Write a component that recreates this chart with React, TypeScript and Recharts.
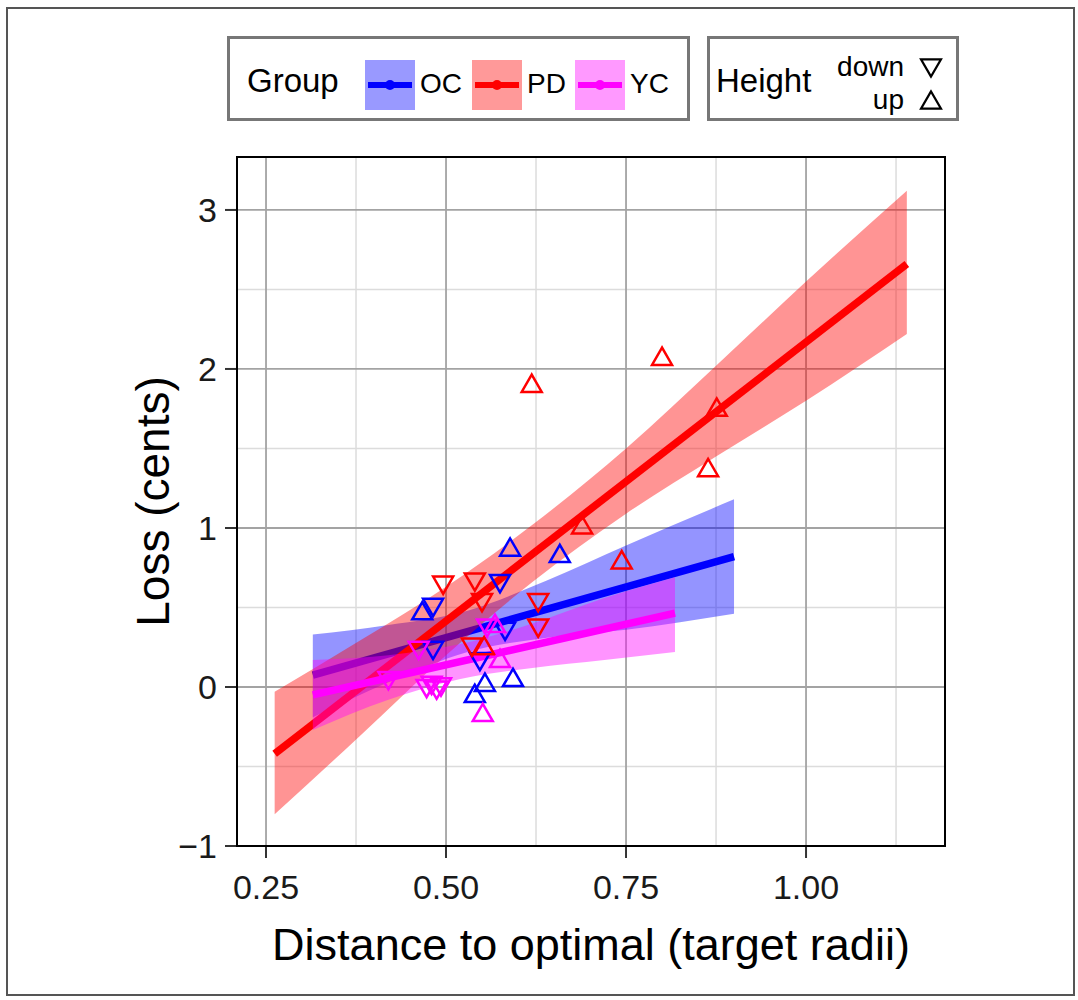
import React from 'react'
import {
  ComposedChart,
  XAxis,
  YAxis,
  CartesianGrid,
  Area,
  Line,
  Scatter,
  Label,
} from 'recharts'

const FONT = '"Liberation Sans", Arial, Helvetica, sans-serif'

const X_TICKS = [0.25, 0.5, 0.75, 1.0]
const Y_TICKS = [-1, 0, 1, 2, 3]
const X_MINOR = [0.375, 0.625, 0.875, 1.125]
const Y_MINOR = [-0.5, 0.5, 1.5, 2.5]

// fitted lines
const OC_FIT = [
  { x: 0.315, y: 0.075 },
  { x: 0.9, y: 0.82 },
]
const PD_FIT = [
  { x: 0.262, y: -0.42 },
  { x: 1.14, y: 2.66 },
]
const YC_FIT = [
  { x: 0.315, y: -0.05 },
  { x: 0.818, y: 0.465 },
]

// confidence ribbons [low, high]
const OC_BAND = [
  { x: 0.315, band: [-0.19, 0.33] },
  { x: 0.42, band: [0.03, 0.39] },
  { x: 0.53, band: [0.22, 0.48] },
  { x: 0.64, band: [0.31, 0.67] },
  { x: 0.75, band: [0.36, 0.89] },
  { x: 0.9, band: [0.46, 1.18] },
]
const PD_BAND = [
  { x: 0.262, band: [-0.8, -0.03] },
  { x: 0.38, band: [-0.31, 0.29] },
  { x: 0.5, band: [0.2, 0.63] },
  { x: 0.62, band: [0.66, 1.02] },
  { x: 0.75, band: [1.09, 1.5] },
  { x: 0.875, band: [1.45, 2.02] },
  { x: 1.0, band: [1.8, 2.55] },
  { x: 1.14, band: [2.22, 3.12] },
]
const YC_BAND = [
  { x: 0.315, band: [-0.27, 0.17] },
  { x: 0.42, band: [-0.08, 0.2] },
  { x: 0.52, band: [0.05, 0.27] },
  { x: 0.62, band: [0.12, 0.4] },
  { x: 0.72, band: [0.17, 0.56] },
  { x: 0.818, band: [0.22, 0.69] },
]

// observations
const OC_POINTS = [
  { x: 0.467, y: 0.48, dir: 'up' },
  { x: 0.589, y: 0.88, dir: 'up' },
  { x: 0.658, y: 0.84, dir: 'up' },
  { x: 0.593, y: 0.06, dir: 'up' },
  { x: 0.554, y: 0.03, dir: 'up' },
  { x: 0.54, y: -0.04, dir: 'up' },
  { x: 0.482, y: 0.5, dir: 'down' },
  { x: 0.575, y: 0.65, dir: 'down' },
  { x: 0.482, y: 0.23, dir: 'down' },
  { x: 0.582, y: 0.35, dir: 'down' },
  { x: 0.547, y: 0.16, dir: 'down' },
]
const PD_POINTS = [
  { x: 0.619, y: 1.91, dir: 'up' },
  { x: 0.8, y: 2.08, dir: 'up' },
  { x: 0.876, y: 1.76, dir: 'up' },
  { x: 0.864, y: 1.38, dir: 'up' },
  { x: 0.689, y: 1.02, dir: 'up' },
  { x: 0.744, y: 0.8, dir: 'up' },
  { x: 0.553, y: 0.26, dir: 'up' },
  { x: 0.496, y: 0.64, dir: 'down' },
  { x: 0.54, y: 0.66, dir: 'down' },
  { x: 0.55, y: 0.53, dir: 'down' },
  { x: 0.628, y: 0.53, dir: 'down' },
  { x: 0.628, y: 0.37, dir: 'down' },
  { x: 0.536, y: 0.25, dir: 'down' },
]
const YC_POINTS = [
  { x: 0.568, y: 0.4, dir: 'up' },
  { x: 0.575, y: 0.18, dir: 'up' },
  { x: 0.551, y: -0.16, dir: 'up' },
  { x: 0.557, y: 0.37, dir: 'down' },
  { x: 0.42, y: 0.04, dir: 'down' },
  { x: 0.462, y: 0.23, dir: 'down' },
  { x: 0.473, y: -0.01, dir: 'down' },
  { x: 0.48, y: 0.01, dir: 'down' },
  { x: 0.487, y: -0.02, dir: 'down' },
  { x: 0.493, y: 0.0, dir: 'down' },
]

const BLUE = '#0000ff'
const RED = '#ff0000'
const MAGENTA = '#ff00ff'
const BAND_OPACITY = 0.42

function triPoints(cx: number, cy: number, up: boolean) {
  const s = 10
  const h = 8.66
  return up
    ? `${cx},${cy - h} ${cx - s},${cy + h} ${cx + s},${cy + h}`
    : `${cx},${cy + h} ${cx - s},${cy - h} ${cx + s},${cy - h}`
}

const triangle = (color: string) => (props: any) => {
  const { cx, cy, payload } = props
  if (cx == null || cy == null) return <g />
  return (
    <polygon
      points={triPoints(cx, cy, payload.dir === 'up')}
      fill="none"
      stroke={color}
      strokeWidth={2.5}
    />
  )
}

const fmtX = (v: number) => v.toFixed(2)
const fmtY = (v: number) => (v < 0 ? `\u2212${Math.abs(v)}` : `${v}`)

function Key({ left, fill, color }: { left: number; fill: string; color: string }) {
  return (
    <svg style={{ position: 'absolute', left, top: 21 }} width={50} height={50}>
      <rect width={50} height={50} fill={fill} />
      <line x1={3} x2={47} y1={25} y2={25} stroke={color} strokeWidth={6} />
      <circle cx={25} cy={25} r={5} fill={color} />
    </svg>
  )
}

function Legend() {
  const text = { position: 'absolute' as const, fontFamily: FONT, color: '#000', lineHeight: 1 }
  return (
    <>
      <div
        style={{
          position: 'absolute',
          left: 227,
          top: 36,
          width: 463,
          height: 85,
          border: '3px solid #777',
          boxSizing: 'border-box',
          background: '#fff',
        }}
      >
        <div style={{ ...text, left: 17, top: 25, fontSize: 33 }}>Group</div>
        <Key left={135} fill="#9999ff" color={BLUE} />
        <div style={{ ...text, left: 190, top: 31, fontSize: 28 }}>OC</div>
        <Key left={242} fill="#ff9999" color={RED} />
        <div style={{ ...text, left: 297, top: 31, fontSize: 28 }}>PD</div>
        <Key left={345} fill="#ff99ff" color={MAGENTA} />
        <div style={{ ...text, left: 400, top: 31, fontSize: 28 }}>YC</div>
      </div>
      <div
        style={{
          position: 'absolute',
          left: 707,
          top: 36,
          width: 252,
          height: 85,
          border: '3px solid #777',
          boxSizing: 'border-box',
          background: '#fff',
        }}
      >
        <div style={{ ...text, left: 6, top: 25, fontSize: 33 }}>Height</div>
        <div style={{ ...text, right: 52, top: 14, fontSize: 28 }}>down</div>
        <div style={{ ...text, right: 52, top: 47, fontSize: 28 }}>up</div>
        <svg style={{ position: 'absolute', left: 206, top: 8 }} width={30} height={70}>
          <polygon points={triPoints(15, 21, false)} fill="none" stroke="#000" strokeWidth={2.2} />
          <polygon points={triPoints(15, 53, true)} fill="none" stroke="#000" strokeWidth={2.2} />
        </svg>
      </div>
    </>
  )
}

export default function App() {
  const tick = { fontSize: 34, fill: '#1a1a1a', fontFamily: FONT }
  return (
    <div style={{ position: 'relative', width: 1078, height: 1000, background: '#fff' }}>
      <style>{'body{margin:0}'}</style>
      <div
        style={{
          position: 'absolute',
          left: 6,
          top: 7,
          width: 1069,
          height: 989,
          border: '2px solid #555',
          boxSizing: 'border-box',
        }}
      />
      <ComposedChart
        width={1078}
        height={1000}
        margin={{ top: 157, right: 133, left: 100, bottom: 34 }}
      >
        <CartesianGrid
          stroke="#dcdcdc"
          strokeWidth={1.5}
          horizontalValues={Y_MINOR}
          verticalValues={X_MINOR}
        />
        <CartesianGrid
          stroke="#a3a3a3"
          strokeWidth={1.8}
          horizontalValues={Y_TICKS}
          verticalValues={X_TICKS}
        />
        <XAxis
          type="number"
          dataKey="x"
          domain={[0.2097, 1.193]}
          ticks={X_TICKS}
          tickFormatter={fmtX}
          allowDataOverflow
          axisLine={false}
          tickSize={12}
          tickMargin={17}
          tickLine={{ stroke: '#333', strokeWidth: 2 }}
          tick={tick}
          height={120}
        >
          <Label
            value="Distance to optimal (target radii)"
            position="insideBottom"
            offset={6}
            style={{ fontSize: 45, fill: '#000', fontFamily: FONT }}
          />
        </XAxis>
        <YAxis
          type="number"
          dataKey="y"
          domain={[-1, 3.333]}
          ticks={Y_TICKS}
          tickFormatter={fmtY}
          allowDataOverflow
          axisLine={false}
          tickSize={12}
          tickMargin={8}
          tickLine={{ stroke: '#333', strokeWidth: 2 }}
          tick={tick}
          width={137}
        >
          <Label
            value="Loss (cents)"
            angle={-90}
            position="insideLeft"
            offset={53}
            style={{ fontSize: 46, fill: '#000', fontFamily: FONT, textAnchor: 'middle' }}
          />
        </YAxis>

        <Area
          data={OC_BAND}
          dataKey="band"
          type="monotone"
          fill={BLUE}
          fillOpacity={BAND_OPACITY}
          stroke="none"
          isAnimationActive={false}
          zIndex={101}
        />
        <Line
          data={OC_FIT}
          dataKey="y"
          stroke={BLUE}
          strokeWidth={7.5}
          dot={false}
          activeDot={false}
          isAnimationActive={false}
          zIndex={102}
        />
        <Area
          data={PD_BAND}
          dataKey="band"
          type="monotone"
          fill={RED}
          fillOpacity={BAND_OPACITY}
          stroke="none"
          isAnimationActive={false}
          zIndex={103}
        />
        <Line
          data={PD_FIT}
          dataKey="y"
          stroke={RED}
          strokeWidth={7.5}
          dot={false}
          activeDot={false}
          isAnimationActive={false}
          zIndex={104}
        />
        <Area
          data={YC_BAND}
          dataKey="band"
          type="monotone"
          fill={MAGENTA}
          fillOpacity={BAND_OPACITY}
          stroke="none"
          isAnimationActive={false}
          zIndex={105}
        />
        <Line
          data={YC_FIT}
          dataKey="y"
          stroke={MAGENTA}
          strokeWidth={7.5}
          dot={false}
          activeDot={false}
          isAnimationActive={false}
          zIndex={106}
        />

        <Scatter data={OC_POINTS} shape={triangle(BLUE)} isAnimationActive={false} zIndex={107} />
        <Scatter data={PD_POINTS} shape={triangle(RED)} isAnimationActive={false} zIndex={108} />
        <Scatter data={YC_POINTS} shape={triangle(MAGENTA)} isAnimationActive={false} zIndex={109} />
      </ComposedChart>
      <div
        style={{
          position: 'absolute',
          left: 236,
          top: 156,
          width: 710,
          height: 691,
          border: '2px solid #000',
          boxSizing: 'border-box',
          pointerEvents: 'none',
        }}
      />
      <Legend />
    </div>
  )
}
